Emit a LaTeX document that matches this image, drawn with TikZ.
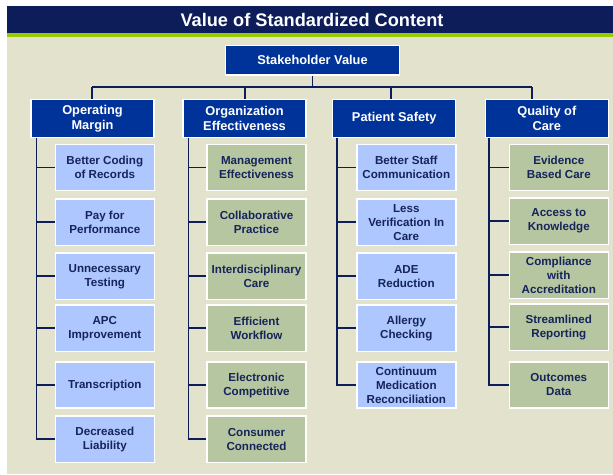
\documentclass[tikz,border=0pt]{standalone}
\usepackage{fontspec}
\setmainfont{Liberation Sans}
\definecolor{bgbeige}{RGB}{227,227,205}
\definecolor{titlenavy}{RGB}{12,29,90}
\definecolor{stripe}{RGB}{153,204,0}
\definecolor{hdrblue}{RGB}{0,51,153}
\definecolor{lightblue}{RGB}{174,199,255}
\definecolor{sage}{RGB}{181,198,160}
\definecolor{txtnavy}{RGB}{22,36,90}
\tikzset{
  hdr/.style={draw=white,line width=1.2pt,fill=hdrblue,text=white,align=center,
    minimum width=123pt,minimum height=38.4pt,inner sep=1pt,
    font=\fontsize{12.8}{15.3}\selectfont\bfseries},
  bluebox/.style={draw=white,line width=1.4pt,fill=lightblue,text=txtnavy,align=center,
    minimum width=99pt,minimum height=46.3pt,inner sep=1pt,
    font=\fontsize{11.6}{14}\selectfont\bfseries},
  greenbox/.style={bluebox,fill=sage},
  conn/.style={draw=titlenavy,line width=1.8pt},
}
\begin{document}
\begin{tikzpicture}[x=1pt,y=-1pt]
\useasboundingbox (0,0) rectangle (613,474);
\fill[white] (0,0) rectangle (613,474);
\fill[bgbeige] (7,6) rectangle (613,474);
\fill[titlenavy] (7,6) rectangle (613,33);
\fill[stripe] (7,33) rectangle (613,37);
\node[text=white,font=\fontsize{18.2}{20}\selectfont\bfseries] (title) at (312,20) {Value of Standardized Content};

\node[hdr,minimum width=173.6pt,minimum height=29.3pt] (sv) at (312.5,60.4) {Stakeholder Value};

\node[hdr] (h1) at (92.5,118.5) {Operating\\Margin};
\node[hdr] (h2) at (244.5,118.5) {Organization\\Effectiveness};
\node[hdr] (h3) at (394.3,118.5) {Patient Safety};
\node[hdr] (h4) at (546.8,118.5) {Quality of\\Care};

% column 1
\node[bluebox] (a1) at (104.8,167.5) {Better Coding\\of Records};
\node[bluebox] (a2) at (104.8,222.3) {Pay for\\Performance};
\node[bluebox] (a3) at (104.8,276.3) {Unnecessary\\Testing};
\node[bluebox] (a4) at (104.8,328.2) {APC\\Improvement};
\node[bluebox] (a5) at (104.8,385) {Transcription};
\node[bluebox] (a6) at (104.8,439.2) {Decreased\\Liability};
% column 2
\node[greenbox] (b1) at (256.5,167.5) {Management\\Effectiveness};
\node[greenbox] (b2) at (256.5,222.3) {Collaborative\\Practice};
\node[greenbox] (b3) at (256.5,276.3) {Interdisciplinary\\Care};
\node[greenbox] (b4) at (256.5,328.2) {Efficient\\Workflow};
\node[greenbox] (b5) at (256.5,385) {Electronic\\Competitive};
\node[greenbox] (b6) at (256.5,439.2) {Consumer\\Connected};
% column 3
\node[bluebox] (c1) at (406.3,167.5) {Better Staff\\Communication};
\node[bluebox] (c2) at (406.3,222.3) {Less\\Verification In\\Care};
\node[bluebox] (c3) at (406.3,276.3) {ADE\\Reduction};
\node[bluebox] (c4) at (406.3,328.2) {Allergy\\Checking};
\node[bluebox] (c5) at (406.3,385) {Continuum\\Medication\\Reconciliation};
% column 4
\node[greenbox] (d1) at (558.8,167.5) {Evidence\\Based Care};
\node[greenbox] (d2) at (558.8,221.2) {Access to\\Knowledge};
\node[greenbox] (d3) at (558.8,275.3) {Compliance\\with\\Accreditation};
\node[greenbox] (d4) at (558.8,327.3) {Streamlined\\Reporting};
\node[greenbox] (d5) at (558.8,385) {Outcomes\\Data};

% top tree
\coordinate (p1) at (92,87);
\coordinate (p2) at (245,87);
\coordinate (p3) at (391,87);
\coordinate (p4) at (532,87);
\begin{scope}[on background layer/.try]
\draw[conn] (sv.south) -- (sv.south |- p1);
\draw[conn] (p1) -- (p4);
\draw[conn] (p1) -- (p1 |- h1.north);
\draw[conn] (p2) -- (p2 |- h2.north);
\draw[conn] (p3) -- (p3 |- h3.north);
\draw[conn] (p4) -- (p4 |- h4.north);
\end{scope}

% column spines
\coordinate (l1) at ([xshift=6pt]h1.south west);
\coordinate (l2) at ([xshift=6pt]h2.south west);
\coordinate (l3) at ([xshift=4.6pt]h3.south west);
\coordinate (l4) at ([xshift=4pt]h4.south west);
\draw[conn] (l1) |- (a6.west);
\foreach \n in {a1,a2,a3,a4,a5} \draw[conn] (\n.west) -- (\n.west -| l1);
\draw[conn] (l2) |- (b6.west);
\foreach \n in {b1,b2,b3,b4,b5} \draw[conn] (\n.west) -- (\n.west -| l2);
\draw[conn] (l3) |- (c5.west);
\foreach \n in {c1,c2,c3,c4} \draw[conn] (\n.west) -- (\n.west -| l3);
\draw[conn] (l4) |- (d5.west);
\foreach \n in {d1,d2,d3,d4} \draw[conn] (\n.west) -- (\n.west -| l4);
\end{tikzpicture}
\end{document}
